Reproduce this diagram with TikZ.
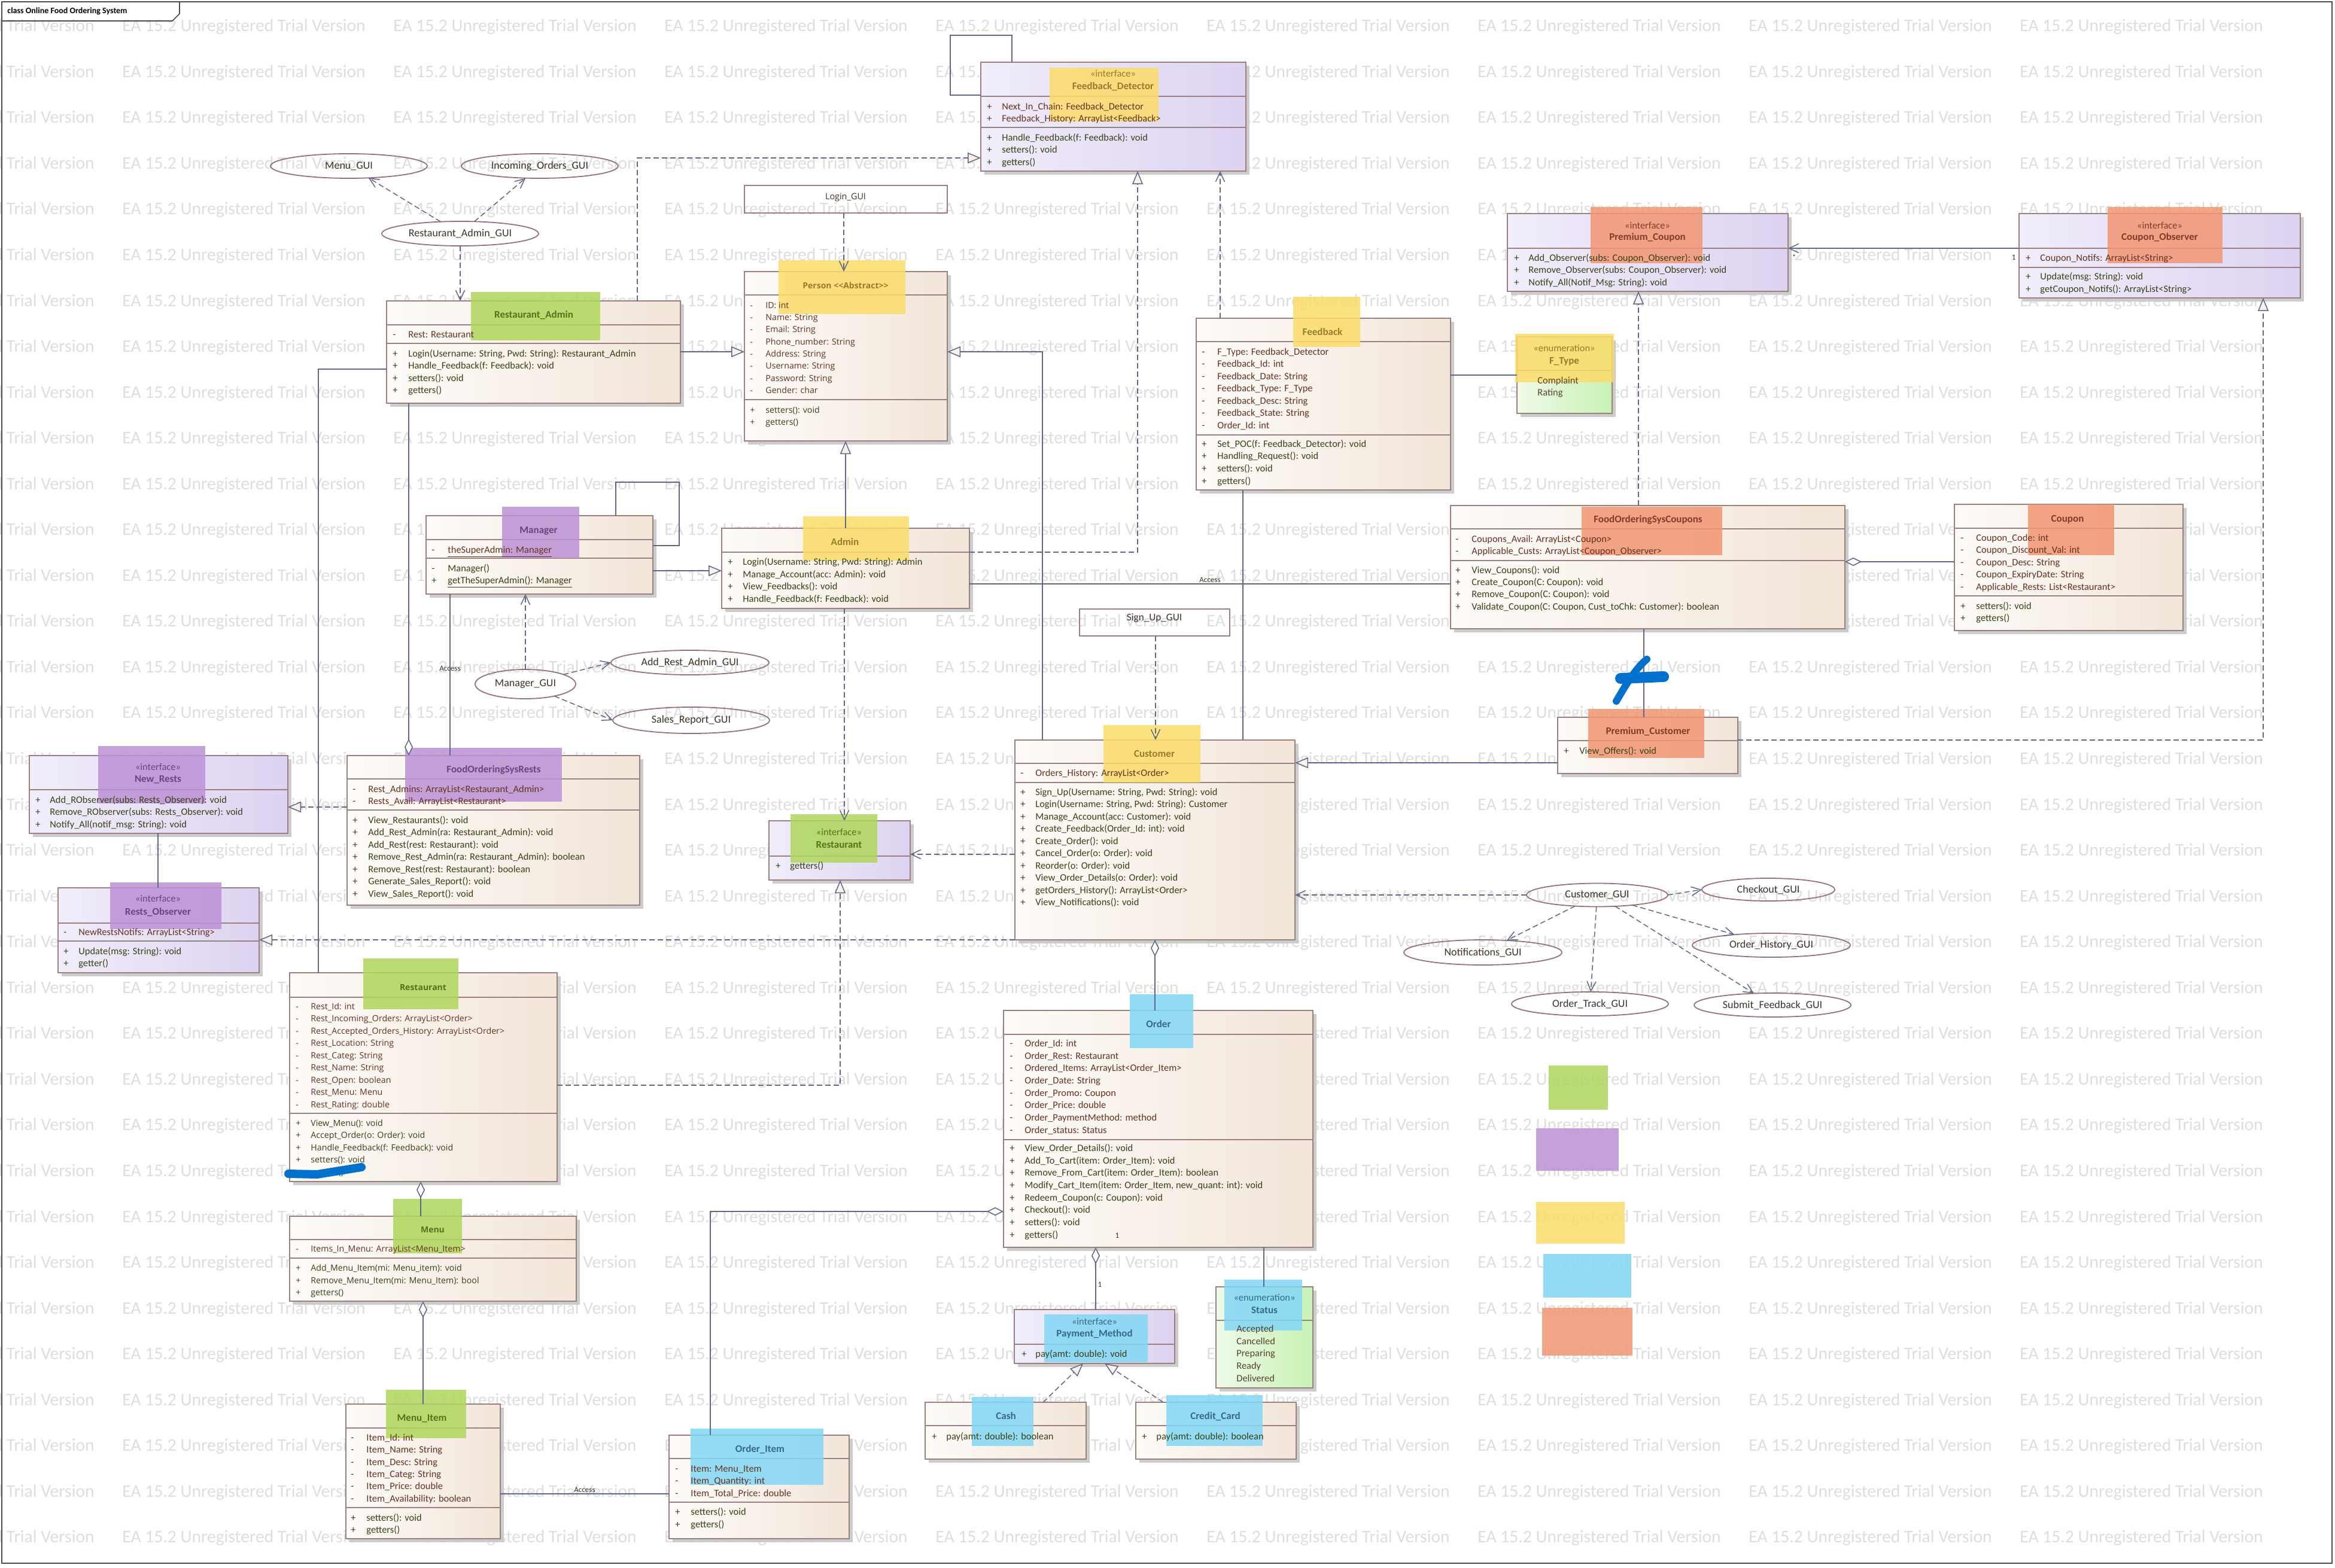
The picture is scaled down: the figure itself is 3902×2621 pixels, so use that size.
\documentclass[tikz,border=0pt]{standalone}
\usepackage{fontspec}
\setmainfont{Carlito}
\newfontfamily\osf{Open Sans}
\usetikzlibrary{arrows.meta,shapes.geometric,shadows}

\definecolor{boxL}{RGB}{253,251,248}
\definecolor{boxR}{RGB}{242,229,217}
\definecolor{ifL}{RGB}{241,237,250}
\definecolor{ifR}{RGB}{221,211,241}
\definecolor{enL}{RGB}{238,250,232}
\definecolor{enR}{RGB}{200,242,180}
\definecolor{bord}{RGB}{155,128,128}
\definecolor{conncol}{RGB}{95,105,135}
\definecolor{ellcol}{RGB}{150,115,115}
\definecolor{attrcol}{RGB}{100,50,35}
\definecolor{opcol}{RGB}{55,65,25}
\definecolor{txtcol}{RGB}{60,50,40}
\definecolor{hlG}{RGB}{176,214,92}
\definecolor{hlP}{RGB}{188,145,212}
\definecolor{hlY}{RGB}{252,220,105}
\definecolor{hlB}{RGB}{130,215,245}
\definecolor{hlO}{RGB}{242,150,115}
\definecolor{nmG}{RGB}{85,115,25}
\definecolor{nmY}{RGB}{150,125,45}
\definecolor{nmP}{RGB}{105,70,130}
\definecolor{nmB}{RGB}{55,105,135}
\definecolor{nmO}{RGB}{130,60,40}
\definecolor{wmcol}{RGB}{222,222,222}
\definecolor{scrib}{RGB}{0,112,205}
\definecolor{trifill}{RGB}{250,240,236}

\tikzset{
  boxbase/.style={draw=bord, line width=0.9pt, inner sep=0pt, outer sep=0pt,
    drop shadow={shadow xshift=3pt, shadow yshift=-3pt, fill=black!22, opacity=0.9}},
  cbox/.style={boxbase, left color=boxL, right color=boxR},
  ibox/.style={boxbase, left color=ifL, right color=ifR},
  ebox/.style={boxbase, left color=enL, right color=enR},
  guibox/.style={draw=bord, line width=0.9pt, inner sep=0pt, outer sep=0pt},
  guiell/.style={ellipse, draw=ellcol, line width=0.9pt, inner sep=0pt, outer sep=0pt,
    text=txtcol, font=\fontsize{9}{10}\selectfont},
  sepline/.style={draw=bord, line width=0.8pt},
  mem/.style={anchor=west, inner sep=0pt, text height=6pt, text depth=1.7pt,
    font=\fontsize{8.2}{9}\selectfont},
  matt/.style={mem, text=attrcol},
  mop/.style={mem, text=opcol},
  oatt/.style={matt, font=\osf\fontsize{7.1}{9}\selectfont},
  oop/.style={mop, font=\osf\fontsize{7.1}{9}\selectfont},
  evals/.style={mem, text=txtcol!80!brown},
  cname/.style={inner sep=0pt, text height=6.3pt, text depth=1.7pt,
    font=\bfseries\fontsize{8.5}{9}\selectfont},
  oname/.style={cname, font=\osf\bfseries\fontsize{7}{8}\selectfont},
  stereo/.style={inner sep=0pt, text height=6pt, text depth=1.7pt,
    font=\fontsize{8.2}{9}\selectfont},
  lbl/.style={inner sep=1pt, text=txtcol, font=\fontsize{6.5}{7}\selectfont},
  wmark/.style={anchor=west, inner sep=0pt, text=wmcol, font=\fontsize{14.8}{15}\selectfont},
  conn/.style={draw=conncol, line width=0.75pt},
  cdash/.style={dash pattern=on 4.5pt off 2.5pt},
  cdep/.style={conn, cdash, -{Straight Barb[length=8pt,width=7.5pt]}},
  cnav/.style={conn, -{Straight Barb[length=8pt,width=7.5pt]}},
  cgen/.style={conn, -{Triangle[length=11pt,width=9pt,fill=trifill]}},
  creal/.style={conn, cdash, -{Triangle[length=11pt,width=9pt,fill=trifill]}},
  cagg/.style={conn, {Diamond[length=14pt,width=7pt,fill=white]}-},
  scribble/.style={draw=scrib, line width=7pt, line cap=round, line join=round},
}

% class box from pixel corners
\newcommand\umlclass[6]{%
  \node[#2, minimum width={(#5-#3)*0.5pt}, minimum height={(#6-#4)*0.5pt}]
    (#1) at ({(#3+#5)/2},{(#4+#6)/2}) {};}
\newcommand\csep[2]{\draw[sepline] (#1.west |- 0,#2) -- (#1.east |- 0,#2);}
% member rows: prefix, style, sign x, text x, first y, step, list
\newcommand\members[7]{%
  \foreach \sg/\tx [count=\ii from 0] in {#7} {%
    \node[#2] (#1s\ii) at (#3,{#5+\ii*#6}) {\sg};
    \node[#2] (#1t\ii) at (#4,{#5+\ii*#6}) {\tx};
  }}
\newcommand\patch[5]{\fill[#1, opacity=0.85] (#2,#3) rectangle (#4,#5);}

\begin{document}
\catcode`\_=12
\begin{tikzpicture}[x=0.5pt, y=-0.5pt]
\useasboundingbox (0,0) rectangle (3902,2621);
\fill[white] (0,0) rectangle (3902,2621);

% ---------- background watermark ----------
\begin{scope}
\clip (0,0) rectangle (3902,2621);
\foreach \r in {0,...,33}
  \foreach \c in {0,...,8}
    \node[wmark] (wm-\r-\c) at ({-249+453*\c},{45+76.55*\r}) {EA 15.2 Unregistered Trial Version};
\end{scope}

% ---------- class boxes ----------
\umlclass{fd}{ibox}{1639}{104}{2082}{286}\csep{fd}{161}\csep{fd}{213}
\umlclass{person}{cbox}{1244}{454}{1583}{737}\csep{person}{493}\csep{person}{668}
\umlclass{login}{guibox}{1244}{310}{1583}{356}
\umlclass{ra}{cbox}{646}{503}{1137}{674}\csep{ra}{543}\csep{ra}{574}
\umlclass{mgr}{cbox}{712}{862}{1091}{993}\csep{mgr}{902}\csep{mgr}{933}
\umlclass{admin}{cbox}{1206}{883}{1620}{1017}\csep{admin}{923}
\umlclass{fb}{cbox}{1999}{532}{2424}{819}\csep{fb}{571}\csep{fb}{727}
\umlclass{ftype}{ebox}{2535}{563}{2694}{691}\csep{ftype}{619}
\umlclass{pcoup}{ibox}{2519}{357}{2988}{487}\csep{pcoup}{415}
\umlclass{cobs}{ibox}{3374}{357}{3844}{498}\csep{cobs}{415}\csep{cobs}{447}
\umlclass{fosc}{cbox}{2424}{845}{3083}{1051}\csep{fosc}{884}\csep{fosc}{937}
\umlclass{coupon}{cbox}{3266}{843}{3648}{1054}\csep{coupon}{883}\csep{coupon}{996}
\umlclass{pcust}{cbox}{2603}{1199}{2904}{1293}\csep{pcust}{1238}
\umlclass{signup}{guibox}{1804}{1018}{2055}{1063}
\umlclass{newr}{ibox}{49}{1263}{481}{1393}\csep{newr}{1320}
\umlclass{fosr}{cbox}{580}{1263}{1069}{1513}\csep{fosr}{1302}\csep{fosr}{1354}
\umlclass{robs}{ibox}{97}{1484}{433}{1626}\csep{robs}{1543}\csep{robs}{1573}
\umlclass{rint}{ibox}{1285}{1372}{1521}{1471}\csep{rint}{1431}
\umlclass{cust}{cbox}{1696}{1237}{2164}{1571}\csep{cust}{1276}\csep{cust}{1308}
\umlclass{rest}{cbox}{484}{1626}{931}{1975}\csep{rest}{1667}\csep{rest}{1861}
\umlclass{menu}{cbox}{484}{2033}{963}{2175}\csep{menu}{2072}\csep{menu}{2103}
\umlclass{mitem}{cbox}{578}{2347}{836}{2572}\csep{mitem}{2387}\csep{mitem}{2520}
\umlclass{oitem}{cbox}{1118}{2399}{1419}{2572}\csep{oitem}{2438}\csep{oitem}{2511}
\umlclass{order}{cbox}{1677}{1689}{2194}{2085}\csep{order}{1729}\csep{order}{1905}
\umlclass{pm}{ibox}{1695}{2189}{1963}{2279}\csep{pm}{2247}
\umlclass{status}{ebox}{2032}{2151}{2194}{2320}\csep{status}{2207}
\umlclass{cash}{cbox}{1546}{2344}{1815}{2439}\csep{cash}{2383}
\umlclass{cc}{cbox}{1898}{2344}{2166}{2439}\csep{cc}{2383}

% ---------- GUI ellipses ----------
\node[guiell, minimum width=131pt, minimum height=20.5pt] (menugui) at (583,277.5) {Menu_GUI};
\node[guiell, minimum width=131pt, minimum height=20.5pt] (incgui) at (902,277.5) {Incoming_Orders_GUI};
\node[guiell, minimum width=131pt, minimum height=20.5pt] (ragui) at (769,390.5) {Restaurant_Admin_GUI};
\node[guiell, minimum width=84pt, minimum height=24.5pt] (mgui) at (878,1143.5) {Manager_GUI};
\node[guiell, minimum width=132pt, minimum height=20.5pt] (argui) at (1153,1107.5) {Add_Rest_Admin_GUI};
\node[guiell, minimum width=131pt, minimum height=22pt] (srgui) at (1155,1204) {Sales_Report_GUI};
\node[guiell, minimum width=118pt, minimum height=19.5pt] (cgui) at (2669,1496) {Customer_GUI};
\node[guiell, minimum width=111pt, minimum height=19pt] (checkout) at (2955,1487) {Checkout_GUI};
\node[guiell, minimum width=132pt, minimum height=21pt] (notif) at (2478,1592) {Notifications_GUI};
\node[guiell, minimum width=132pt, minimum height=20pt] (ohist) at (2960,1580) {Order_History_GUI};
\node[guiell, minimum width=131pt, minimum height=20pt] (otrack) at (2657,1678) {Order_Track_GUI};
\node[guiell, minimum width=131pt, minimum height=20pt] (sfeed) at (2962,1680) {Submit_Feedback_GUI};

% ---------- highlighter marks ----------
\patch{hlY}{1754}{113}{1936}{203}
\patch{hlY}{1301}{435}{1513}{525}
\patch{hlG}{787}{488}{1003}{569}
\patch{hlP}{839}{847}{968}{933}
\patch{hlY}{1342}{863}{1519}{937}
\patch{hlY}{2161}{496}{2273}{580}
\patch{hlY}{2532}{558}{2697}{639}
\patch{hlO}{2658}{346}{2845}{440}
\patch{hlO}{3522}{346}{3714}{440}
\patch{hlO}{2643}{847}{2878}{928}
\patch{hlO}{3389}{843}{3533}{928}
\patch{hlO}{2654}{1185}{2848}{1267}
\patch{hlP}{164}{1247}{343}{1343}
\patch{hlP}{677}{1250}{939}{1340}
\patch{hlP}{184}{1475}{370}{1553}
\patch{hlG}{1321}{1361}{1466}{1442}
\patch{hlY}{1844}{1212}{2006}{1308}
\patch{hlG}{607}{1602}{766}{1687}
\patch{hlG}{657}{2004}{772}{2095}
\patch{hlG}{645}{2323}{779}{2404}
\patch{hlB}{1154}{2388}{1376}{2482}
\patch{hlB}{1888}{1662}{1994}{1752}
\patch{hlB}{1745}{2197}{1918}{2277}
\patch{hlB}{2046}{2139}{2176}{2224}
\patch{hlB}{1624}{2335}{1727}{2417}
\patch{hlB}{1949}{2332}{2110}{2417}
% colour key
\patch{hlG}{2588}{1781}{2687}{1855}
\patch{hlP}{2567}{1886}{2705}{1957}
\patch{hlY}{2567}{2009}{2715}{2079}
\patch{hlB}{2579}{2096}{2726}{2169}
\patch{hlO}{2577}{2186}{2728}{2266}

% ---------- texts ----------
% Feedback_Detector
\node[stereo, text=nmY] (fd-st) at (1860,124) {«interface»};
\node[cname, text=nmY] (fd-nm) at (1860,145) {Feedback_Detector};
\members{fda}{matt}{1649}{1674}{179}{20.4}{+/{Next_In_Chain: Feedback_Detector},+/{Feedback_History: ArrayList<Feedback>}}
\members{fdo}{mop}{1649}{1674}{231}{20.5}{+/{Handle_Feedback(f: Feedback): void},+/{setters(): void},+/getters()}
% Login_GUI
\node[inner sep=0pt, text=txtcol, font=\osf\fontsize{7.2}{8}\selectfont] (login-t) at (1413,330) {Login_GUI};
% Person
\node[oname, text=nmY] (person-nm) at (1413,478) {Person <{}<Abstract>{}>};
\members{pa}{oatt}{1253}{1279}{511}{20.3}{-/{ID: int},-/{Name: String},-/{Email: String},-/{Phone_number: String},-/{Address: String},-/{Username: String},-/{Password: String},-/{Gender: char}}
\members{po}{oop}{1253}{1279}{686}{20.3}{+/{setters(): void},+/getters()}
% Restaurant_Admin
\node[cname, text=nmG] (ra-nm) at (892,527) {Restaurant_Admin};
\members{raa}{matt}{656}{682}{560}{20}{-/{Rest: Restaurant}}
\members{rao}{mop}{656}{682}{592}{20.4}{+/{Login(Username: String, Pwd: String): Restaurant_Admin},+/{Handle_Feedback(f: Feedback): void},+/{setters(): void},+/getters()}
% Manager
\node[cname, text=nmP] (mgr-nm) at (900,887) {Manager};
\node[matt] (mgr-s0) at (721,920) {-};
\node[matt] (mgr-t0) at (748,920) {\underline{theSuperAdmin: Manager}};
\node[mop] (mgr-s1) at (721,951) {-};
\node[mop] (mgr-t1) at (748,951) {Manager()};
\node[mop] (mgr-s2) at (721,971) {+};
\node[mop] (mgr-t2) at (748,971) {\underline{getTheSuperAdmin(): Manager}};
% Admin
\node[cname, text=nmY] (admin-nm) at (1412,907) {Admin};
\members{ado}{mop}{1216}{1241}{940}{20.7}{+/{Login(Username: String, Pwd: String): Admin},+/{Manage_Account(acc: Admin): void},+/{View_Feedbacks(): void},+/{Handle_Feedback(f: Feedback): void}}
% Feedback
\node[cname, text=nmY] (fb-nm) at (2210,556) {Feedback};
\members{fba}{matt}{2008}{2034}{589}{20.5}{-/{F_Type: Feedback_Detector},-/{Feedback_Id: int},-/{Feedback_Date: String},-/{Feedback_Type: F_Type},-/{Feedback_Desc: String},-/{Feedback_State: String},-/{Order_Id: int}}
\members{fbo}{mop}{2008}{2034}{743}{20.6}{+/{Set_POC(f: Feedback_Detector): void},+/{Handling_Request(): void},+/{setters(): void},+/getters()}
% F_Type
\node[stereo, text=nmY] (ft-st) at (2614,583) {«enumeration»};
\node[cname, text=nmY] (ft-nm) at (2614,604) {F_Type};
\node[evals] (ft-v0) at (2569,637) {Complaint};
\node[evals] (ft-v1) at (2569,657) {Rating};
% Premium_Coupon
\node[stereo, text=nmO] (pc-st) at (2753,378) {«interface»};
\node[cname, text=nmO] (pc-nm) at (2753,397) {Premium_Coupon};
\members{pco}{mop}{2530}{2554}{432}{20.5}{+/{Add_Observer(subs: Coupon_Observer): void},+/{Remove_Observer(subs: Coupon_Observer): void},+/{Notify_All(Notif_Msg: String): void}}
% Coupon_Observer
\node[stereo, text=nmO] (co-st) at (3609,378) {«interface»};
\node[cname, text=nmO] (co-nm) at (3609,397) {Coupon_Observer};
\members{coa}{matt}{3385}{3409}{432}{20}{+/{Coupon_Notifs: ArrayList<String>}}
\members{coo}{mop}{3385}{3409}{463}{21}{+/{Update(msg: String): void},+/{getCoupon_Notifs(): ArrayList<String>}}
% FoodOrderingSysCoupons
\node[cname, text=nmO] (fosc-nm) at (2754,869) {FoodOrderingSysCoupons};
\members{fca}{matt}{2432}{2459}{902}{20}{-/{Coupons_Avail: ArrayList<Coupon>},-/{Applicable_Custs: ArrayList<Coupon_Observer>}}
\members{fco}{mop}{2432}{2459}{954}{20.3}{+/{View_Coupons(): void},+/{Create_Coupon(C: Coupon): void},+/{Remove_Coupon(C: Coupon): void},+/{Validate_Coupon(C: Coupon, Cust_toChk: Customer): boolean}}
% Coupon
\node[cname, text=nmO] (cp-nm) at (3455,868) {Coupon};
\members{cpa}{matt}{3276}{3302}{900}{20.5}{-/{Coupon_Code: int},-/{Coupon_Discount_Val: int},-/{Coupon_Desc: String},-/{Coupon_ExpiryDate: String},-/{Applicable_Rests: List<Restaurant>}}
\members{cpo}{mop}{3276}{3302}{1014}{20}{+/{setters(): void},+/getters()}
% Premium_Customer
\node[cname, text=nmO] (pcu-nm) at (2754,1223) {Premium_Customer};
\members{pcuo}{mop}{2613}{2639}{1256}{20}{+/{View_Offers(): void}}
% Sign_Up_GUI
\node[inner sep=0pt, text=txtcol, font=\fontsize{8.6}{9}\selectfont] (signup-t) at (1929,1033) {Sign_Up_GUI};
% New_Rests
\node[stereo, text=nmP] (nr-st) at (264,1283) {«interface»};
\node[cname, text=nmP] (nr-nm) at (264,1303) {New_Rests};
\members{nro}{mop}{59}{83}{1338}{20.5}{+/{Add_RObserver(subs: Rests_Observer): void},+/{Remove_RObserver(subs: Rests_Observer): void},+/{Notify_All(notif_msg: String): void}}
% FoodOrderingSysRests
\node[cname, text=nmP] (fosr-nm) at (825,1287) {FoodOrderingSysRests};
\members{fra}{matt}{589}{615}{1320}{20}{-/{Rest_Admins: ArrayList<Restaurant_Admin>},-/{Rests_Avail: ArrayList<Restaurant>}}
\members{fro}{mop}{589}{615}{1372}{20.5}{+/{View_Restaurants(): void},+/{Add_Rest_Admin(ra: Restaurant_Admin): void},+/{Add_Rest(rest: Restaurant): void},+/{Remove_Rest_Admin(ra: Restaurant_Admin): boolean},+/{Remove_Rest(rest: Restaurant): boolean},+/{Generate_Sales_Report(): void},+/{View_Sales_Report(): void}}
% Rests_Observer
\node[stereo, text=nmP] (ro-st) at (264,1503) {«interface»};
\node[cname, text=nmP] (ro-nm) at (264,1525) {Rests_Observer};
\members{roa}{matt}{106}{131}{1559}{20}{-/{NewRestsNotifs: ArrayList<String>}}
\members{roo}{mop}{106}{131}{1591}{20}{+/{Update(msg: String): void},+/getter()}
% Restaurant interface
\node[stereo, text=nmG] (ri-st) at (1402,1392) {«interface»};
\node[cname, text=nmG] (ri-nm) at (1402,1413) {Restaurant};
\members{rio}{mop}{1296}{1320}{1448}{20}{+/getters()}
% Customer
\node[cname, text=nmY] (cu-nm) at (1929,1261) {Customer};
\members{cua}{matt}{1705}{1730}{1293}{20}{-/{Orders_History: ArrayList<Order>}}
\members{cuo}{mop}{1705}{1730}{1325}{20.5}{+/{Sign_Up(Username: String, Pwd: String): void},+/{Login(Username: String, Pwd: String): Customer},+/{Manage_Account(acc: Customer): void},+/{Create_Feedback(Order_Id: int): void},+/{Create_Order(): void},+/{Cancel_Order(o: Order): void},+/{Reorder(o: Order): void},+/{View_Order_Details(o: Order): void},+/{getOrders_History(): ArrayList<Order>},+/{View_Notifications(): void}}
% Restaurant class
\node[oname, text=nmG] (re-nm) at (707,1651) {Restaurant};
\members{rea}{oatt}{494}{519}{1683}{20.5}{-/{Rest_Id: int},-/{Rest_Incoming_Orders: ArrayList<Order>},-/{Rest_Accepted_Orders_History: ArrayList<Order>},-/{Rest_Location: String},-/{Rest_Categ: String},-/{Rest_Name: String},-/{Rest_Open: boolean},-/{Rest_Menu: Menu},-/{Rest_Rating: double}}
\members{reo}{oop}{494}{519}{1878}{20.5}{+/{View_Menu(): void},+/{Accept_Order(o: Order): void},+/{Handle_Feedback(f: Feedback): void},+/{setters(): void},+/getters()}
% Menu
\node[oname, text=nmG] (me-nm) at (723,2056) {Menu};
\members{mea}{oatt}{494}{519}{2088}{20}{-/{Items_In_Menu: ArrayList<Menu_Item>}}
\members{meo}{oop}{494}{519}{2120}{20.8}{+/{Add_Menu_Item(mi: Menu_item): void},+/{Remove_Menu_Item(mi: Menu_Item): bool},+/getters()}
% Menu_Item
\node[cname, text=nmG] (mi-nm) at (705,2371) {Menu_Item};
\members{mia}{matt}{586}{612}{2404}{20.4}{-/{Item_Id: int},-/{Item_Name: String},-/{Item_Desc: String},-/{Item_Categ: String},-/{Item_Price: double},-/{Item_Availability: boolean}}
\members{mio}{mop}{586}{612}{2538}{20}{+/{setters(): void},+/getters()}
% Order_Item
\node[cname, text=nmB] (oi-nm) at (1270,2423) {Order_Item};
\members{oia}{matt}{1128}{1154}{2456}{20.5}{-/{Item: Menu_Item},-/{Item_Quantity: int},-/{Item_Total_Price: double}}
\members{oio}{mop}{1128}{1154}{2528}{21}{+/{setters(): void},+/getters()}
% Order
\node[cname, text=nmB] (or-nm) at (1936,1713) {Order};
\members{ora}{matt}{1687}{1712}{1745}{20.7}{-/{Order_Id: int},-/{Order_Rest: Restaurant},-/{Ordered_Items: ArrayList<Order_Item>},-/{Order_Date: String},-/{Order_Promo: Coupon},-/{Order_Price: double},-/{Order_PaymentMethod: method},-/{Order_status: Status}}
\members{oro}{mop}{1687}{1712}{1920}{20.7}{+/{View_Order_Details(): void},+/{Add_To_Cart(item: Order_Item): void},+/{Remove_From_Cart(item: Order_Item): boolean},+/{Modify_Cart_Item(item: Order_Item, new_quant: int): void},+/{Redeem_Coupon(c: Coupon): void},+/{Checkout(): void},+/{setters(): void},+/getters()}
% Payment_Method
\node[stereo, text=nmB] (pm-st) at (1829,2210) {«interface»};
\node[cname, text=nmB] (pm-nm) at (1829,2230) {Payment_Method};
\members{pmo}{mop}{1707}{1730}{2264}{20}{+/{pay(amt: double): void}}
% Status
\node[stereo, text=nmB] (st-st) at (2113,2170) {«enumeration»};
\node[cname, text=nmB] (st-nm) at (2113,2191) {Status};
\foreach \v [count=\ii from 0] in {Accepted,Cancelled,Preparing,Ready,Delivered}
  \node[evals] (st-v\ii) at (2066,{2222+\ii*20.7}) {\v};
% Cash, Credit_Card
\node[cname, text=nmB] (ca-nm) at (1681,2368) {Cash};
\members{cao}{mop}{1557}{1581}{2402}{20}{+/{pay(amt: double): boolean}}
\node[cname, text=nmB] (cc-nm) at (2031,2368) {Credit_Card};
\members{cco}{mop}{1908}{1932}{2402}{20}{+/{pay(amt: double): boolean}}

% ---------- connectors ----------
\draw[cdep] (ragui) -- (menugui);
\draw[cdep] (ragui) -- (incgui);
\draw[cdep] (ragui.south) -- (ragui.south |- ra.north);
\draw[creal] (ra.north -| 1065,0) |- (fd.west |- 0,264);
\draw[cgen] (ra.east |- 0,588) -- (person.west |- 0,588);
\draw[conn] (ra.west |- 0,617) -| (rest.north -| 532,0);
\draw[cagg] (fosr.north -| 683,0) -- (ra.south -| 683,0);
\draw[conn] (mgr.south -| 752,0) -- node[lbl, pos=0.46] (acc1) {Access} (fosr.north -| 752,0);
\draw[conn] (mgr.north -| 1029,0) |- (1135,806) |- (mgr.east |- 0,912);
\draw[cgen] (mgr.east |- 0,954) -- (admin.west |- 0,954);
\draw[cgen] (admin.north -| 1413,0) -- (person.south -| 1413,0);
\draw[creal] (admin.east |- 0,923) -| (fd.south -| 1901,0);
\draw[conn] (admin.east |- 0,976) -- node[lbl, pos=0.5, above] (acc2) {Access} (fosc.west |- 0,976);
\draw[cdep] (admin.south -| 1411,0) -- (rint.north -| 1411,0);
\draw[cdep] (login.south -| 1410,0) -- (person.north -| 1410,0);
\draw[conn] (fd.north -| 1691,0) |- (1588,59) |- (fd.west |- 0,159);
\draw[cdep] (fb.north -| 2039,0) -- (fd.south -| 2039,0);
\draw[conn] (fb.east |- 0,627) -- (ftype.west |- 0,627);
\draw[conn] (fb.south -| 2077,0) -- (cust.north -| 2077,0);
\draw[cgen] (cust.north -| 1742,0) |- (person.east |- 0,588);
\draw[cnav] (cobs.west |- 0,415) -- (pcoup.east |- 0,415);
\node[lbl] (m-star) at (2998,430) {*};
\node[lbl] (m-one1) at (3365,430) {1};
\draw[creal] (fosc.north -| 2738,0) -- (pcoup.south -| 2738,0);
\draw[cagg] (fosc.east |- 0,939) -- (coupon.west |- 0,939);
\draw[conn] (fosc.south -| 2747,0) -- (pcust.north -| 2747,0);
\draw[creal] (pcust.east |- 0,1237) -| (cobs.south -| 3782,0);
\draw[cgen] (pcust.west |- 0,1275) -- (cust.east |- 0,1275);
\draw[cdep] (signup.south -| 1931,0) -- (cust.north -| 1931,0);
\draw[creal] (fosr.west |- 0,1349) -- (newr.east |- 0,1349);
\draw[conn] (newr.south -| 264,0) -- (robs.north -| 264,0);
\draw[creal] (cust.south west) -- (robs.east |- cust.south west);
\draw[cdep] (cust.west |- 0,1428) -- (rint.east |- 0,1428);
\draw[creal] (rest.east |- 0,1814) -| (rint.south -| 1404,0);
\draw[cagg] (rest.south -| 703,0) -- (menu.north -| 703,0);
\draw[cagg] (menu.south -| 707,0) -- (mitem.north -| 707,0);
\draw[conn] (mitem.east |- 0,2497) -- node[lbl, pos=0.5, above] (acc3) {Access} (oitem.west |- 0,2497);
\draw[cagg] (order.west |- 0,2025) -| (oitem.north -| 1187,0);
\draw[cagg] (cust.south -| 1930,0) -- (order.north -| 1930,0);
\draw[cagg] (order.south -| 1831,0) -- (pm.north -| 1831,0);
\node[lbl] (m-one2) at (1838,2147) {1};
\node[lbl] (m-one3) at (1867,2065) {1};
\draw[conn] (order.south -| 2112,0) -- (status.north -| 2112,0);
\draw[creal] (cash.north -| 1743,0) -- (pm.south -| 1810,0);
\draw[creal] (cc.north -| 1944,0) -- (pm.south -| 1846,0);
\draw[cdep] (cgui.west) -- (cust.east |- cgui.west);
\draw[cdep] (cgui.east) -- (checkout.west);
\draw[cdep] (cgui) -- (notif);
\draw[cdep] (cgui) -- (otrack);
\draw[cdep] (cgui) -- (sfeed);
\draw[cdep] (cgui) -- (ohist);
\draw[cdep] (mgui.north) -- (mgui.north |- mgr.south);
\draw[cdep] (mgui) -- (argui.west);
\draw[cdep] (mgui) -- (srgui.west);

% ---------- pen marks ----------
\draw[scribble] (482,1962) -- (530,1963) -- (604,1951);
\draw[scribble, line width=6pt] (2701,1172) .. controls (2714,1150) and (2732,1118) .. (2752,1102);
\draw[scribble, line width=9pt] (2708,1134) -- (2780,1131);

% ---------- diagram frame ----------
\draw[black!70, line width=0.8pt] (3,3) rectangle (3897,2613);
\draw[black!70, line width=0.8pt] (3,35) -- (288,35) -- (300,23) -- (300,3);
\node[anchor=west, inner sep=0pt, font=\bfseries\fontsize{7}{8}\selectfont] (title) at (12,19) {class Online Food Ordering System};
\end{tikzpicture}
\end{document}
